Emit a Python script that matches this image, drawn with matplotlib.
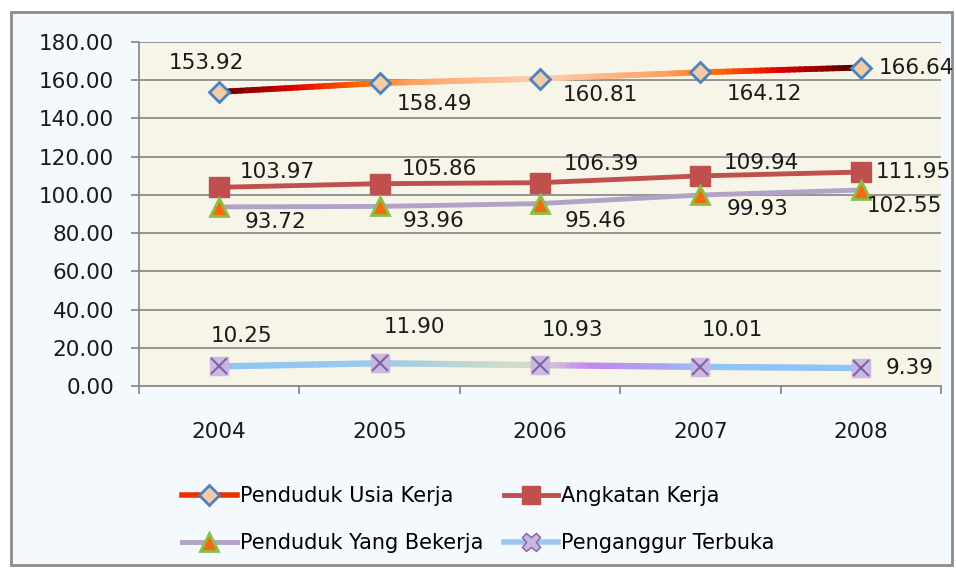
import matplotlib
matplotlib.use('Agg')
import matplotlib.pyplot as plt
import numpy as np
from matplotlib.collections import LineCollection
from matplotlib.colors import LinearSegmentedColormap
from matplotlib.lines import Line2D
from matplotlib.patches import Rectangle

plt.rcParams['font.family'] = ['DejaVu Sans']

# data (juta jiwa)
years = ['2004', '2005', '2006', '2007', '2008']
usia_kerja = [153.92, 158.49, 160.81, 164.12, 166.64]
angkatan_kerja = [103.97, 105.86, 106.39, 109.94, 111.95]
bekerja = [93.72, 93.96, 95.46, 99.93, 102.55]
penganggur = [10.25, 11.90, 10.93, 10.01, 9.39]

x = np.arange(len(years))

fig = plt.figure(figsize=(9.56, 5.69), dpi=100)
fig.patch.set_facecolor('white')
frame = Rectangle((11 / 956, 4 / 569), 941 / 956, 553 / 569, transform=fig.transFigure,
                  facecolor='#f3f9fc', edgecolor='#8c8c8c', linewidth=2, zorder=-5)
fig.patches.append(frame)

ax = fig.add_axes([139 / 956, 1 - 386 / 569, 802 / 956, 344 / 569])
ax.set_facecolor('#f6f5e7')


def gradient_line(ax, xs, ys, stops, lw, z):
    # colour along the line only; the line itself follows the data points
    cmap = LinearSegmentedColormap.from_list('g', stops)
    segs, cols = [], []
    for i in range(len(xs) - 1):
        t = np.linspace(0, 1, 30)
        px = xs[i] + (xs[i + 1] - xs[i]) * t
        py = ys[i] + (ys[i + 1] - ys[i]) * t
        for j in range(len(t) - 1):
            segs.append([(px[j], py[j]), (px[j + 1], py[j + 1])])
            cols.append(cmap((px[j] + px[j + 1]) / 2 / (len(xs) - 1)))
    lc = LineCollection(segs, colors=cols, linewidths=lw, capstyle='round', zorder=z)
    ax.add_collection(lc)


gradient_line(ax, x, usia_kerja,
              [(0, '#5c0000'), (0.12, '#e00000'), (0.22, '#ff6a00'), (0.3, '#ffa060'),
               (0.5, '#fcd0b0'), (0.7, '#ffa060'), (0.78, '#ff6a00'), (0.88, '#e00000'),
               (1, '#4a0000')], 4.2, 3)
ax.plot(x, usia_kerja, linestyle='none', marker='D', ms=10, mfc='#f2cba9', mec='#4f81bd', mew=2, zorder=5)

ax.plot(x, angkatan_kerja, color='#c0504d', lw=3.5, marker='s', ms=14, mfc='#c0504d', mec='#c0504d', zorder=4)

ax.plot(x, bekerja, color='#b3a2c7', lw=3.5, zorder=3)
ax.plot(x, bekerja, linestyle='none', marker='^', ms=13, mfc='#f26b10', mec='#8cbf4a', mew=2, zorder=5)

gradient_line(ax, x, penganggur,
              [(0, '#8ec4f5'), (0.25, '#9dc9ec'), (0.45, '#cddcc6'), (0.5, '#d6d8c8'),
               (0.58, '#c486f2'), (0.7, '#a9a6f2'), (0.75, '#90c4f8'), (1, '#90c4f8')], 4.5, 3)
ax.plot(x, penganggur, linestyle='none', marker='s', ms=13, mfc='#c9b4e2', mec='#c9b4e2', alpha=0.9, zorder=5)
ax.plot(x, penganggur, linestyle='none', marker='x', ms=12, mec='#8064a2', mew=1.5, zorder=6)

# data labels, offsets in pixels from the point (label centre)
lab_kw = dict(fontsize=15.5, color='#1a1a1a', zorder=7, ha='center', va='center')
off_usia = [(-13, 29), (55, -21), (60, -16), (64, -22), (56, 0)]
off_ak = [(58, 15), (60, 15), (61, 19), (61, 13), (53, 0)]
off_bk = [(56, -15), (54, -15), (56, -17), (57, -14), (44, -16)]
off_pg = [(22, 30), (35, 36), (32, 35), (32, 37), (49, 0)]
for vals, offs in [(usia_kerja, off_usia), (angkatan_kerja, off_ak), (bekerja, off_bk), (penganggur, off_pg)]:
    for xi, v, (dx, dy) in zip(x, vals, offs):
        ax.annotate(f'{v:.2f}', (xi, v), xytext=(dx, dy), textcoords='offset pixels', **lab_kw)

ax.set_xlim(-0.5, 4.5)
ax.set_ylim(0, 180)
ax.set_yticks(np.arange(0, 181, 20))
ax.set_yticklabels([f'{v:.2f}' for v in np.arange(0, 181, 20)])
ax.yaxis.grid(True, color='#8c8c8c', lw=1.3)
ax.set_axisbelow(True)
ax.set_xticks(x)
ax.set_xticklabels(years)
ax.set_xticks(np.arange(-0.5, 4.6, 1), minor=True)
ax.tick_params(axis='x', which='major', length=0, pad=26, labelsize=15.5, labelcolor='#1a1a1a')
ax.tick_params(axis='x', which='minor', length=6, color='#8c8c8c', width=1.3)
ax.tick_params(axis='y', length=6, color='#8c8c8c', width=1.3, pad=12, labelsize=15.5, labelcolor='#1a1a1a')
for s in ['top', 'right']:
    ax.spines[s].set_visible(False)
for s in ['left', 'bottom']:
    ax.spines[s].set_color('#8c8c8c')
    ax.spines[s].set_linewidth(1.3)

# legend (row-major order with 2 columns)
h_usia = Line2D([], [], color='#e83000', lw=4, marker='D', ms=10, mfc='#f2cba9', mec='#4f81bd', mew=2)
h_ak = Line2D([], [], color='#c0504d', lw=3.5, marker='s', ms=13, mfc='#c0504d', mec='#c0504d')
h_bk = Line2D([], [], color='#b3a2c7', lw=3.5, marker='^', ms=13, mfc='#f26b10', mec='#8cbf4a', mew=2)
h_pg = Line2D([], [], color='#9dc6f2', lw=4, marker='X', ms=13, mfc='#c9b4e2', mec='#8064a2', mew=1)
fig.legend([h_usia, h_bk, h_ak, h_pg],
           ['Penduduk Usia Kerja', 'Penduduk Yang Bekerja', 'Angkatan Kerja', 'Penganggur Terbuka'],
           ncol=2, loc='upper left', bbox_to_anchor=(174 / 956, 1 - 478 / 569), frameon=False,
           fontsize=15, handlelength=2.6, handletextpad=0.15, columnspacing=1.0, labelspacing=1.3,
           borderaxespad=0)

plt.savefig('out.png', dpi=100, facecolor='white')
